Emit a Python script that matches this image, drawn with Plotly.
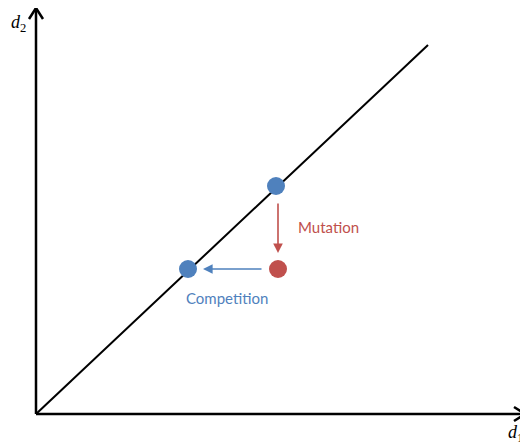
import plotly.graph_objects as go

# Data (coordinates in the schematic's d1/d2 space)
origin = [0, 0]
x_axis_tip = [489, 0]
y_axis_tip = [0, 406]
diag_x = [0, 392]
diag_y = [0, 369]

blue_x = [240, 152]
blue_y = [228, 145]
red_x = [242]
red_y = [145]

mutation_from = [242, 212]
mutation_to = [242, 161]
competition_from = [227, 145]
competition_to = [167, 145]

labels = ["Mutation", "Competition"]
label_pos = [[292, 187], [191, 116]]
axis_labels = ["<i>d</i><sub>1</sub>", "<i>d</i><sub>2</sub>"]
axis_label_pos = [[470, -19], [-27, 391]]

BLUE = "#4f81bd"
RED = "#c0504d"
HEAD_L, HEAD_W = 11, 7

fig = go.Figure()

# axes lines
fig.add_trace(go.Scatter(x=[origin[0], x_axis_tip[0]], y=[origin[1], x_axis_tip[1]],
                         mode="lines", line=dict(color="black", width=2.5), hoverinfo="skip"))
fig.add_trace(go.Scatter(x=[origin[0], y_axis_tip[0]], y=[origin[1], y_axis_tip[1]],
                         mode="lines", line=dict(color="black", width=2.5), hoverinfo="skip"))
# chevron heads
tx, ty = x_axis_tip
fig.add_trace(go.Scatter(x=[tx - HEAD_L, tx, tx - HEAD_L], y=[ty + HEAD_W, ty, ty - HEAD_W],
                         mode="lines", line=dict(color="black", width=2.5), hoverinfo="skip"))
tx, ty = y_axis_tip
fig.add_trace(go.Scatter(x=[tx - HEAD_W, tx, tx + HEAD_W], y=[ty - HEAD_L, ty, ty - HEAD_L],
                         mode="lines", line=dict(color="black", width=2.5), hoverinfo="skip"))

# diagonal
fig.add_trace(go.Scatter(x=diag_x, y=diag_y, mode="lines",
                         line=dict(color="black", width=2), hoverinfo="skip"))

# points
fig.add_trace(go.Scatter(x=blue_x, y=blue_y, mode="markers",
                         marker=dict(color=BLUE, size=18, line=dict(width=0))))
fig.add_trace(go.Scatter(x=red_x, y=red_y, mode="markers",
                         marker=dict(color=RED, size=18, line=dict(width=0))))

# arrows
fig.add_annotation(x=mutation_to[0], y=mutation_to[1], ax=mutation_from[0], ay=mutation_from[1],
                   xref="x", yref="y", axref="x", ayref="y", text="", showarrow=True,
                   arrowhead=2, arrowsize=1.2, arrowwidth=1.6, arrowcolor=RED, standoff=0)
fig.add_annotation(x=competition_to[0], y=competition_to[1], ax=competition_from[0], ay=competition_from[1],
                   xref="x", yref="y", axref="x", ayref="y", text="", showarrow=True,
                   arrowhead=2, arrowsize=1.2, arrowwidth=1.6, arrowcolor=BLUE, standoff=0)

# text labels
for txt, pos, col in zip(labels, label_pos, [RED, BLUE]):
    fig.add_annotation(x=pos[0], y=pos[1], text=txt, showarrow=False,
                       font=dict(family="Lato", size=15, color=col))
for txt, pos in zip(axis_labels, axis_label_pos):
    fig.add_annotation(x=pos[0], y=pos[1], text=txt, showarrow=False, xanchor="left",
                       font=dict(family="Liberation Serif", size=18, color="black"))

# ranges compensate for the 8px page margin of the html body
fig.update_layout(width=528, height=445, margin=dict(l=0, r=0, t=0, b=0),
                  paper_bgcolor="white", plot_bgcolor="white", showlegend=False,
                  xaxis=dict(range=[-28, 500], visible=False, fixedrange=True),
                  yaxis=dict(range=[-39, 406], visible=False, fixedrange=True))

fig.write_html("out.html")
